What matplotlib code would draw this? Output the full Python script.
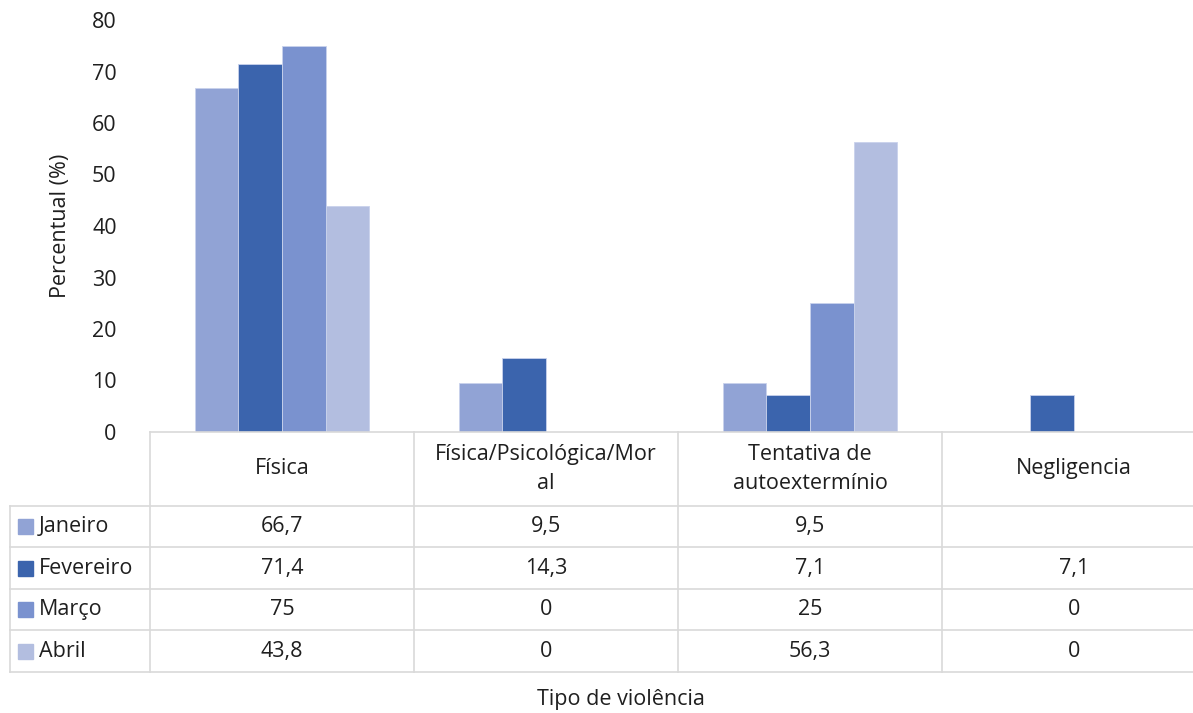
import numpy as np
import matplotlib
matplotlib.use('Agg')
import matplotlib.pyplot as plt
from matplotlib.patches import Rectangle

plt.rcParams['font.family'] = ['Open Sans', 'DejaVu Sans']

categories = ['Física', 'Física/Psicológica/Mor\nal', 'Tentativa de\nautoextermínio', 'Negligencia']
months = ['Janeiro', 'Fevereiro', 'Março', 'Abril']
janeiro = [66.7, 9.5, 9.5, None]
fevereiro = [71.4, 14.3, 7.1, 7.1]
marco = [75, 0, 25, 0]
abril = [43.8, 0, 56.3, 0]
series = [janeiro, fevereiro, marco, abril]
colors = ['#91A3D5', '#3B64AD', '#7A92CF', '#B3BEE0']
yticks = [0, 10, 20, 30, 40, 50, 60, 70, 80]

W, H = 1193, 713
FS = 15.5
TXT = '#1F1F1F'
fig = plt.figure(figsize=(W / 100, H / 100), dpi=100)

# main bar area (pixel layout of the reference; right edge runs off the canvas)
colw = 264
x0, ytop, ybot = 150, 20, 432
x1 = x0 + colw * len(categories)
ax = fig.add_axes([x0 / W, 1 - ybot / H, (x1 - x0) / W, (ybot - ytop) / H])
x = np.arange(len(categories))
group_w = 0.66
bw = group_w / len(series)
for i, (vals, c) in enumerate(zip(series, colors)):
    h = [v if v is not None else 0 for v in vals]
    ax.bar(x - group_w / 2 + bw * (i + 0.5), h, width=bw, color=c,
           edgecolor='#C9D2EC', linewidth=0.6)
ax.set_xlim(-0.5, len(categories) - 0.5)
ax.set_ylim(0, 80)
ax.set_yticks(yticks)
ax.set_yticklabels([str(t) for t in yticks], fontsize=FS, color=TXT)
ax.tick_params(axis='y', length=0, pad=24)
ax.set_xticks([])
for s in ['top', 'right', 'left']:
    ax.spines[s].set_visible(False)
ax.spines['bottom'].set_color('#D9D9D9')
ax.spines['bottom'].set_linewidth(1.2)
ax.set_ylabel('Percentual (%)', fontsize=FS, color=TXT, labelpad=15)

# data table below
tx0, tbot = 10, 672
tax = fig.add_axes([tx0 / W, 1 - tbot / H, (x1 - tx0) / W, (tbot - ybot) / H])
head = 74 / 41.6
nrows = len(months)
left = -0.5 - (x0 - tx0) / colw
right = len(categories) - 0.5
tax.set_xlim(left, right)
tax.set_ylim(head + nrows, 0)
tax.axis('off')
lc = '#D9D9D9'
for k in range(nrows + 1):
    y = head + k
    tax.plot([left, right], [y, y], color=lc, lw=1.2, clip_on=False)
for xv in np.arange(-0.5, len(categories), 1.0):
    tax.plot([xv, xv], [0, head + nrows], color=lc, lw=1.2, clip_on=False)
tax.plot([left, left], [head, head + nrows], color=lc, lw=1.2, clip_on=False)

for j, cat in enumerate(categories):
    tax.text(j, head / 2, cat, ha='center', va='center', fontsize=FS,
             color=TXT, linespacing=1.5)

for i, (m, vals, c) in enumerate(zip(months, series, colors)):
    yc = head + i + 0.5
    tax.add_patch(Rectangle((left + 8 / colw, yc - 0.18), 15 / colw, 0.36,
                            color=c, clip_on=False))
    tax.text(left + 29 / colw, yc, m, ha='left', va='center', fontsize=FS,
             color=TXT)
    for j, v in enumerate(vals):
        if v is None:
            continue
        label = ('%g' % v).replace('.', ',')
        tax.text(j, yc, label, ha='center', va='center', fontsize=FS,
                 color=TXT)

fig.text(621 / W, 1 - 700 / H, 'Tipo de violência', ha='center', va='center',
         fontsize=FS, color=TXT)

fig.savefig('out.png', dpi=100)
